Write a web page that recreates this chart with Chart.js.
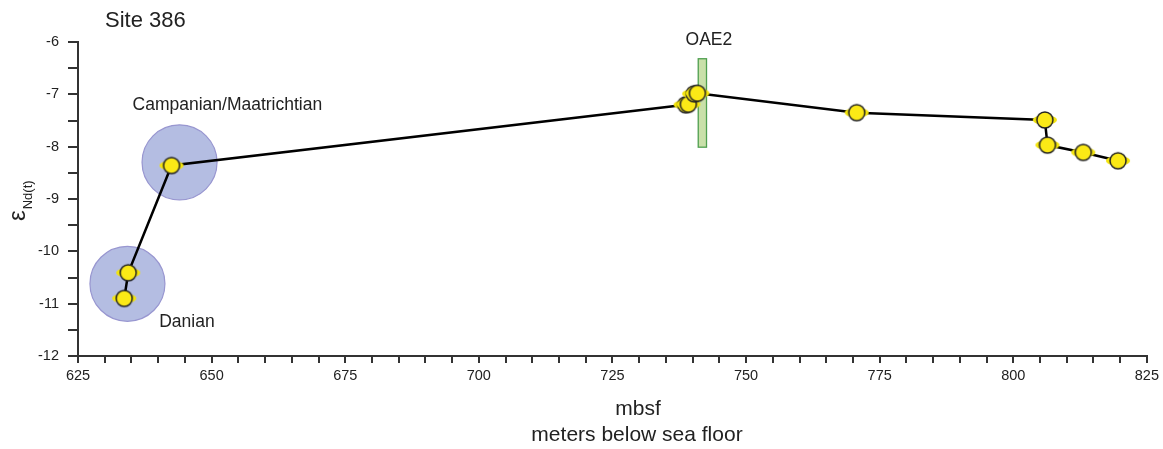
<!DOCTYPE html>
<html>
<head>
<meta charset="utf-8">
<title>Site 386 εNd(t)</title>
<script src="https://cdn.jsdelivr.net/npm/chart.js@4.4.1/dist/chart.umd.min.js"></script>
<style>
  html, body { margin: 0; padding: 0; background: #fff; overflow: hidden; }
  canvas { display: block; }
</style>
</head>
<body>
<canvas id="ndChart" width="1163" height="449"></canvas>
<script>
// Nd isotope record, sample depth (mbsf) vs epsilon Nd(t)
const depths = [633.65, 634.4, 642.5, 738.7, 739.2, 740.3, 740.9, 770.7, 805.9, 806.4, 813.1, 819.6];
const epsNd  = [-10.90, -10.41, -8.36, -7.20, -7.19, -6.99, -6.98, -7.35, -7.49, -7.97, -8.11, -8.27];

// stage groupings (shaded discs) and their labels
const eraNames = ['Campanian/Maatrichtian', 'Danian'];
const eraDepth = [644.0, 634.25];
const eraEps   = [-8.30, -10.62];
const eraLabelDepth = [635.2, 640.2];
const eraLabelEps   = [-7.29, -11.45];

// OAE2 interval
const oae2Depth = [741.05, 742.6];
const oae2Eps   = [-6.32, -8.01];
const oae2LabelAt = [743.05, -6.06];

// axis ranges and tick spacing
const xRange = [625, 825], xMajor = 25, xMinor = 5;
const yRange = [-12, -6], yMajor = 1, yMinor = 0.5;

const FONT = "'Liberation Sans', Arial, Helvetica, sans-serif";
const INK = '#222';

// yellow sample marker with a flattened halo behind it
function makeMarker() {
  const c = document.createElement('canvas');
  c.width = 28; c.height = 20;
  const g = c.getContext('2d');
  g.fillStyle = '#f3e40c';
  g.beginPath();
  g.ellipse(14, 10, 12, 4.8, 0, 0, Math.PI * 2);
  g.fill();
  g.fillStyle = '#fbe916';
  g.strokeStyle = '#222';
  g.lineWidth = 1.5;
  g.beginPath();
  g.arc(14, 10, 8, 0, Math.PI * 2);
  g.fill();
  g.stroke();
  return c;
}

const decor = {
  id: 'decor',
  beforeDatasetsDraw(chart) {
    const { ctx, scales: { x, y } } = chart;
    const l = x.getPixelForValue(oae2Depth[0]), r = x.getPixelForValue(oae2Depth[1]);
    const t = y.getPixelForValue(oae2Eps[0]), b = y.getPixelForValue(oae2Eps[1]);
    ctx.save();
    ctx.fillStyle = '#c9e0a9';
    ctx.strokeStyle = '#4f9f4f';
    ctx.lineWidth = 1.3;
    ctx.fillRect(l, t, r - l, b - t);
    ctx.strokeRect(l, t, r - l, b - t);
    ctx.restore();
  },
  afterDraw(chart) {
    const { ctx, scales: { x, y } } = chart;
    ctx.save();
    ctx.fillStyle = INK;
    ctx.textBaseline = 'alphabetic';

    ctx.font = `22px ${FONT}`;
    ctx.textAlign = 'left';
    ctx.fillText('Site 386', 105, 27);

    ctx.font = `17.5px ${FONT}`;
    eraNames.forEach((name, i) => {
      ctx.fillText(name, x.getPixelForValue(eraLabelDepth[i]), y.getPixelForValue(eraLabelEps[i]));
    });
    ctx.textAlign = 'center';
    ctx.fillText('OAE2', x.getPixelForValue(oae2LabelAt[0]), y.getPixelForValue(oae2LabelAt[1]));

    // x axis title
    ctx.font = `21px ${FONT}`;
    ctx.fillText('mbsf', 638, 415);
    ctx.fillText('meters below sea floor', 637, 441);

    // y axis title: epsilon with Nd(t) subscript
    ctx.translate(25, 221);
    ctx.rotate(-Math.PI / 2);
    ctx.textAlign = 'left';
    ctx.font = `24px ${FONT}`;
    ctx.fillText('ε', 0, 0);
    const w = ctx.measureText('ε').width;
    ctx.font = `13px ${FONT}`;
    ctx.fillText('Nd(t)', w + 1, 6.5);
    ctx.restore();
  }
};

const marker = makeMarker();

new Chart(document.getElementById('ndChart'), {
  type: 'scatter',
  data: {
    datasets: [
      {
        label: 'εNd(t)',
        data: depths.map((d, i) => ({ x: d, y: epsNd[i] })),
        showLine: true,
        borderColor: '#000',
        borderWidth: 2.5,
        pointStyle: marker,
        order: 1
      },
      {
        label: 'stages',
        data: eraDepth.map((d, i) => ({ x: d, y: eraEps[i] })),
        pointRadius: 37.5,
        backgroundColor: 'rgb(180, 189, 226)',
        borderColor: 'rgb(152, 150, 208)',
        borderWidth: 1.2,
        order: 2
      }
    ]
  },
  options: {
    responsive: false,
    animation: false,
    events: [],
    layout: { autoPadding: false, padding: { top: 42, right: 13, left: 0, bottom: 0 } },
    plugins: { legend: { display: false }, tooltip: { enabled: false } },
    scales: {
      x: {
        type: 'linear',
        min: xRange[0],
        max: xRange[1],
        afterFit: s => { s.height = 93; },
        border: { display: true, color: '#333', width: 2 },
        grid: { drawOnChartArea: false, drawTicks: true, tickLength: 7, color: '#333', lineWidth: 2 },
        ticks: {
          stepSize: xMinor,
          autoSkip: false,
          maxRotation: 0,
          padding: 4,
          color: INK,
          font: { family: FONT, size: 14.5 },
          callback: v => (v % xMajor === 0 ? String(v) : '')
        }
      },
      y: {
        type: 'linear',
        min: yRange[0],
        max: yRange[1],
        afterFit: s => { s.width = 78; },
        border: { display: true, color: '#333', width: 2 },
        grid: { drawOnChartArea: false, drawTicks: true, tickLength: 10, color: '#333', lineWidth: 2 },
        ticks: {
          stepSize: yMinor,
          autoSkip: false,
          padding: 9,
          color: INK,
          font: { family: FONT, size: 14.5 },
          callback: v => (Number.isInteger(v / yMajor) ? String(v) : '')
        }
      }
    }
  },
  plugins: [decor]
});
</script>
</body>
</html>
